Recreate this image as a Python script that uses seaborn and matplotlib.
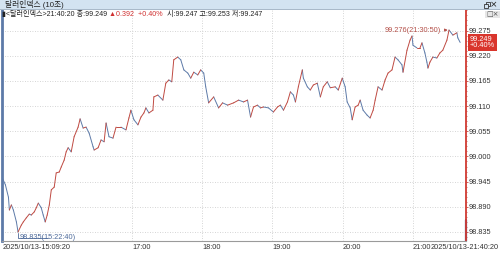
import matplotlib
matplotlib.use("Agg")
import matplotlib.pyplot as plt
import seaborn as sns
import pandas as pd
from matplotlib.patches import Rectangle
from matplotlib.ticker import AutoMinorLocator

# ---------------- data ----------------
minutes_after_1500 = [9.3, 11.9, 14.5, 15.3, 17.0, 18.7, 21.3, 22.7, 25.5, 27.2, 29.8, 32.3, 34.0, 36.6, 38.3, 40.0,
                      42.5, 44.2, 45.9, 47.6, 49.4, 51.1, 53.6, 55.3, 57.9, 59.6, 62.1, 63.8, 65.5, 68.1, 70.6, 74.0,
                      75.7, 78.3, 80.8, 83.4, 86.8, 87.7, 91.1, 93.6, 96.2, 97.9, 100.4, 103.8, 106.4, 110.6, 114.9,
                      117.4, 119.1, 121.7, 125.1, 127.7, 130.2, 131.9, 134.5, 137.9, 138.7, 142.1, 146.4, 148.9, 151.5,
                      154.0, 155.7, 159.1, 161.7, 164.3, 167.7, 170.2, 172.8, 176.2, 178.7, 181.3, 183.0, 185.5, 189.8,
                      194.0, 197.4, 201.7, 206.8, 211.1, 215.3, 218.7, 221.3, 223.8, 227.2, 229.8, 232.3, 236.6, 240.8,
                      244.3, 246.8, 249.4, 252.8, 255.3, 257.9, 259.6, 262.1, 265.5, 266.4, 269.8, 272.3, 274.9, 278.3,
                      280.9, 283.4, 286.8, 289.4, 293.6, 296.2, 299.6, 302.1, 303.8, 306.4, 308.1, 310.6, 313.2, 314.9,
                      317.4, 320.9, 323.4, 326.0, 327.7, 330.2, 333.6, 336.2, 338.7, 342.1, 344.7, 347.2, 350.6, 351.5,
                      354.9, 357.5, 359.2, 360.0, 363.4, 366.0, 367.7, 370.2, 371.9, 372.8, 374.5, 377.0, 380.4, 383.0,
                      385.5, 389.0, 390.8, 394.1, 397.5, 398.3, 400.3]
price = [98.953, 98.938, 98.911, 98.883, 98.894, 98.883, 98.857, 98.835, 98.850, 98.857, 98.866, 98.874, 98.872,
         98.879, 98.888, 98.898, 98.888, 98.872, 98.857, 98.872, 98.894, 98.927, 98.933, 98.964, 98.966, 98.977,
         98.992, 99.010, 99.019, 99.010, 99.043, 99.064, 99.082, 99.062, 99.064, 99.051, 99.021, 99.014, 99.019,
         99.036, 99.032, 99.073, 99.043, 99.040, 99.064, 99.064, 99.058, 99.084, 99.101, 99.080, 99.069, 99.086,
         99.095, 99.106, 99.095, 99.101, 99.130, 99.134, 99.123, 99.160, 99.167, 99.163, 99.211, 99.217, 99.211,
         99.189, 99.182, 99.171, 99.184, 99.178, 99.189, 99.182, 99.152, 99.117, 99.130, 99.106, 99.117, 99.112,
         99.117, 99.123, 99.119, 99.123, 99.086, 99.108, 99.112, 99.106, 99.108, 99.106, 99.097, 99.108, 99.112,
         99.101, 99.119, 99.141, 99.134, 99.119, 99.152, 99.189, 99.171, 99.152, 99.145, 99.156, 99.160, 99.130,
         99.152, 99.163, 99.150, 99.152, 99.145, 99.171, 99.152, 99.119, 99.106, 99.080, 99.108, 99.112, 99.123,
         99.101, 99.090, 99.084, 99.101, 99.123, 99.152, 99.145, 99.167, 99.182, 99.189, 99.217, 99.211, 99.200,
         99.184, 99.232, 99.254, 99.263, 99.243, 99.237, 99.237, 99.248, 99.226, 99.206, 99.193, 99.206, 99.217,
         99.215, 99.226, 99.232, 99.254, 99.276, 99.265, 99.270, 99.259, 99.249]
assert len(minutes_after_1500) == len(price), (len(minutes_after_1500), len(price))

y_ticks = [98.835, 98.890, 98.945, 99.000, 99.055, 99.110, 99.165, 99.220, 99.275]
x_tick_minutes = [120, 180, 240, 300, 360]
x_tick_labels = ["17:00", "18:00", "19:00", "20:00", "21:00"]
start_label = "2025/10/13-15:09:20"
end_label = "2025/10/13-21:40:20"

title = "달러인덱스 (10초)"
name = "달러인덱스"
last_time = "21:40:20"
close_v, change_v, pct_v = 99.249, 0.392, 0.40
open_v, high_v, low_v = 99.247, 99.253, 99.247
peak_time, low_time = "21:30:50", "15:22:40"

RED = "#bf4a42"
BLUE = "#5d7aa8"
DEC = "."
SMALL = 5.3


def fmt(v):
    return f"{v:.3f}".replace(".", DEC)


# ---------------- fonts ----------------
sns.set_theme(style="white")
FAM = ["Liberation Sans", "Noto Sans CJK KR", "DejaVu Sans"]
plt.rcParams["font.family"] = FAM

W, H = 500, 254
fig = plt.figure(figsize=(W / 100, H / 100), dpi=100, facecolor="white")


def fx(px):
    return px / W


def fy(py):
    return 1 - py / H


ax = fig.add_axes([fx(2), 13 / H, 464 / W, 231 / H])
ax.set_facecolor("white")

# segments coloured by direction (red = up, blue = down)
rows = []
for i in range(len(price) - 1):
    d = "up" if price[i + 1] >= price[i] else "down"
    rows.append({"t": minutes_after_1500[i], "v": price[i], "seg": i, "dir": d})
    rows.append({"t": minutes_after_1500[i + 1], "v": price[i + 1], "seg": i, "dir": d})
df = pd.DataFrame(rows)
sns.lineplot(data=df, x="t", y="v", hue="dir", units="seg", estimator=None, sort=False,
             palette={"up": RED, "down": BLUE}, linewidth=0.7, legend=False, ax=ax)

ax.set_xlim(9.0, 405.3)
ax.set_ylim(98.8153, 99.3198)
ax.set_xlabel("")
ax.set_ylabel("")

ax.set_xticks(x_tick_minutes)
ax.set_xticklabels(x_tick_labels)
for lab in ax.get_xticklabels():
    lab.set_ha("left")
ax.tick_params(axis="x", direction="out", length=2.2, width=0.6, color="#808080", pad=0,
               labelsize=SMALL, labelcolor="#333333")

ax.yaxis.tick_right()
ax.set_yticks(y_ticks)
ax.set_yticklabels([fmt(v) for v in y_ticks])
ax.yaxis.set_minor_locator(AutoMinorLocator(5))
ax.tick_params(axis="y", which="major", direction="out", length=1.5, width=0.6, color=RED, pad=0.5,
               labelsize=SMALL, labelcolor="#333333")
ax.tick_params(axis="y", which="minor", direction="out", length=1.0, width=0.5, color=RED)

ax.grid(True, which="major", linestyle=(0, (1, 2)), color="#c8c8c8", linewidth=0.6)

ax.spines["top"].set_visible(False)
ax.spines["bottom"].set_color("#9a9a9a")
ax.spines["bottom"].set_linewidth(0.8)
ax.spines["left"].set_color(BLUE)
ax.spines["left"].set_linewidth(2.0)
ax.spines["right"].set_color("#d03a32")
ax.spines["right"].set_linewidth(1.3)
ax.axvline(ax.get_xlim()[1], ymin=0, ymax=0.09, color="#3f5f9a", linewidth=1.6, clip_on=False)

# peak / low annotations
pk = price.index(max(price))
ax.annotate(f"{fmt(price[pk])}({peak_time})", xy=(minutes_after_1500[pk], price[pk]),
            xytext=(-8, 0), textcoords="offset pixels", ha="right", va="center",
            fontsize=SMALL, color="#b5514a",
            arrowprops=dict(arrowstyle="-|>", color="#b5514a", lw=0.6, mutation_scale=4,
                            shrinkA=0, shrinkB=1))
lo = price.index(min(price))
ax.annotate(f"{fmt(price[lo])}({low_time})", xy=(minutes_after_1500[lo], price[lo]),
            xytext=(2, -6), textcoords="offset pixels", ha="left", va="center",
            fontsize=SMALL, color="#4d6a9a",
            arrowprops=dict(arrowstyle="-", color="#4d6a9a", lw=0.6,
                            connectionstyle="angle,angleA=0,angleB=90,rad=0", shrinkA=0, shrinkB=1))

# price box on right axis
ax.annotate(f"{fmt(close_v)}\n+{pct_v:.2f}%".replace(".", DEC), xy=(1, close_v),
            xycoords=("axes fraction", "data"), xytext=(4, 0), textcoords="offset pixels",
            ha="left", va="center", fontsize=SMALL, color="white", linespacing=0.95,
            bbox=dict(boxstyle="square,pad=0.25", fc="#d9352c", ec="none"), annotation_clip=False)

# bottom date labels
fig.text(fx(3), fy(247.5), start_label, ha="left", va="center", fontsize=SMALL, color="#333333")
fig.text(fx(499), fy(247.5), end_label, ha="right", va="center", fontsize=SMALL, color="#333333")

# title bar
fig.patches.append(Rectangle((0, fy(9)), 1, 1 - fy(9), transform=fig.transFigure,
                             fc="#d3e3f1", ec="none", zorder=0))
fig.patches.append(Rectangle((0, fy(10)), 1, 1 / H, transform=fig.transFigure,
                             fc="#a9b9c9", ec="none", zorder=0))
fig.text(fx(5), fy(4.5), title, ha="left", va="center", fontsize=5.6, color="#222222")
# restore icon (two overlapping squares) and close mark
for (ix, iy) in [(485.5, 2.0), (484.0, 3.5)]:
    fig.patches.append(Rectangle((fx(ix), fy(iy + 4)), 4 / W, 4 / H, transform=fig.transFigure,
                                 fc="#d3e3f1", ec="#333333", lw=0.6, zorder=3))
fig.text(fx(494), fy(4.8), "×", ha="center", va="center", fontsize=6.5, color="#222222",
         family=["DejaVu Sans"])

# info line
t1 = fig.text(fx(2), fy(14.5), f"▮<{name}>{last_time} 종:{fmt(close_v)} ", ha="left", va="center",
              fontsize=5.1, color="#222222")
t2 = ax.annotate(f"▲{fmt(change_v)}  +{pct_v:.2f}%".replace(".", DEC), xy=(1, 0.5), xycoords=t1,
                 ha="left", va="center", fontsize=5.1, color="#d03030", annotation_clip=False)
ax.annotate(f"  시:{fmt(open_v)} 고:{fmt(high_v)} 저:{fmt(low_v)}", xy=(1, 0.5), xycoords=t2,
            ha="left", va="center", fontsize=5.1, color="#222222", annotation_clip=False)
fig.patches.append(Rectangle((fx(485), fy(18)), 15 / W, 7 / H, transform=fig.transFigure,
                             fc="#e6e6e6", ec="none", zorder=3))
fig.text(fx(492.5), fy(14.5), "□×", ha="center", va="center", fontsize=5.0, color="#555555",
         family=["DejaVu Sans"], zorder=4)

fig.savefig("out.png", dpi=100, facecolor="white")
